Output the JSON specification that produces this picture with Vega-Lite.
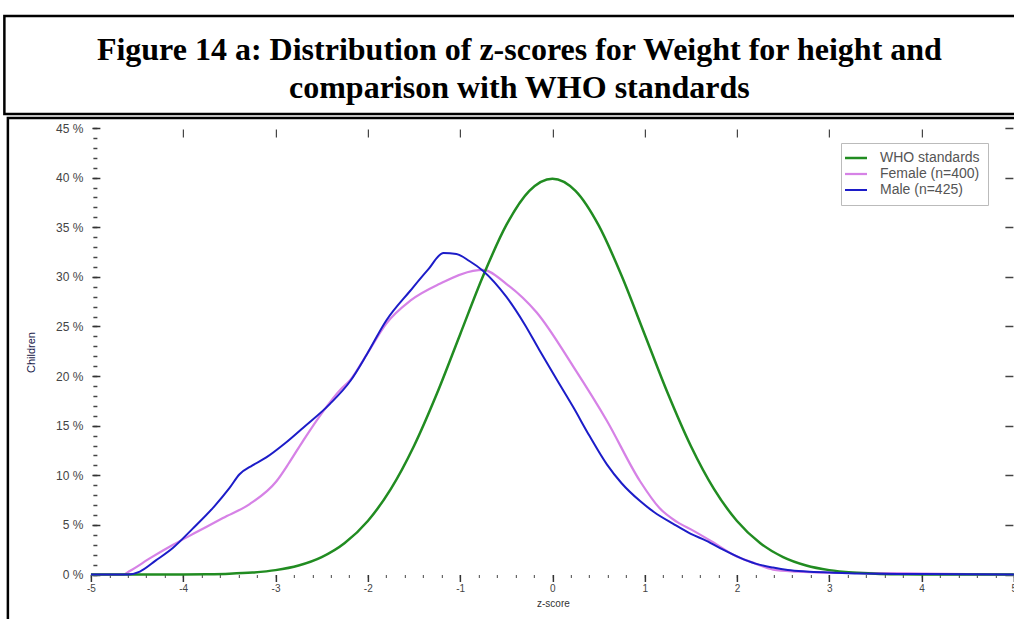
{
  "$schema": "https://vega.github.io/schema/vega-lite/v6.json",
  "padding": {"left": 3, "top": 14, "right": 0, "bottom": 0},
  "background": "white",
  "spacing": 0,
  "center": true,
  "config": {
    "view": {"stroke": "black", "strokeWidth": 2.5},
    "font": "Liberation Sans",
    "axis": {"grid": false, "domain": false, "labelFont": "Liberation Sans", "titleFont": "Liberation Sans"}
  },
  "datasets": {
    "heading": [
      {"title": "Figure 14 a: Distribution of z-scores for Weight for height and\ncomparison with WHO standards"}
    ],
    "curves": [
      {"z": -5, "pct": 0, "series": "Female (n=400)"},
      {"z": -4.65, "pct": 0, "series": "Female (n=400)"},
      {"z": -4.58, "pct": 0.35, "series": "Female (n=400)"},
      {"z": -4.35, "pct": 1.7, "series": "Female (n=400)"},
      {"z": -4.11, "pct": 3.0, "series": "Female (n=400)"},
      {"z": -3.85, "pct": 4.3, "series": "Female (n=400)"},
      {"z": -3.57, "pct": 5.7, "series": "Female (n=400)"},
      {"z": -3.28, "pct": 7.1, "series": "Female (n=400)"},
      {"z": -2.99, "pct": 9.4, "series": "Female (n=400)"},
      {"z": -2.85, "pct": 11.3, "series": "Female (n=400)"},
      {"z": -2.7, "pct": 13.5, "series": "Female (n=400)"},
      {"z": -2.48, "pct": 16.5, "series": "Female (n=400)"},
      {"z": -2.3, "pct": 18.6, "series": "Female (n=400)"},
      {"z": -2.19, "pct": 19.6, "series": "Female (n=400)"},
      {"z": -2.01, "pct": 22.2, "series": "Female (n=400)"},
      {"z": -1.8, "pct": 25.3, "series": "Female (n=400)"},
      {"z": -1.54, "pct": 27.6, "series": "Female (n=400)"},
      {"z": -1.22, "pct": 29.3, "series": "Female (n=400)"},
      {"z": -0.86, "pct": 30.6, "series": "Female (n=400)"},
      {"z": -0.75, "pct": 30.7, "series": "Female (n=400)"},
      {"z": -0.5, "pct": 29.3, "series": "Female (n=400)"},
      {"z": -0.17, "pct": 26.4, "series": "Female (n=400)"},
      {"z": 0.23, "pct": 20.9, "series": "Female (n=400)"},
      {"z": 0.59, "pct": 15.5, "series": "Female (n=400)"},
      {"z": 0.95, "pct": 9.4, "series": "Female (n=400)"},
      {"z": 1.16, "pct": 6.7, "series": "Female (n=400)"},
      {"z": 1.35, "pct": 5.3, "series": "Female (n=400)"},
      {"z": 1.53, "pct": 4.4, "series": "Female (n=400)"},
      {"z": 1.75, "pct": 3.2, "series": "Female (n=400)"},
      {"z": 1.96, "pct": 2.0, "series": "Female (n=400)"},
      {"z": 2.2, "pct": 1.1, "series": "Female (n=400)"},
      {"z": 2.39, "pct": 0.5, "series": "Female (n=400)"},
      {"z": 2.65, "pct": 0.3, "series": "Female (n=400)"},
      {"z": 2.93, "pct": 0.2, "series": "Female (n=400)"},
      {"z": 3.5, "pct": 0.15, "series": "Female (n=400)"},
      {"z": 4, "pct": 0.1, "series": "Female (n=400)"},
      {"z": 5, "pct": 0, "series": "Female (n=400)"},

      {"z": -5, "pct": 0, "series": "WHO standards"},
      {"z": -4.5, "pct": 0.002, "series": "WHO standards"},
      {"z": -4, "pct": 0.013, "series": "WHO standards"},
      {"z": -3.75, "pct": 0.035, "series": "WHO standards"},
      {"z": -3.5, "pct": 0.087, "series": "WHO standards"},
      {"z": -3.25, "pct": 0.203, "series": "WHO standards"},
      {"z": -3, "pct": 0.443, "series": "WHO standards"},
      {"z": -2.75, "pct": 0.909, "series": "WHO standards"},
      {"z": -2.5, "pct": 1.753, "series": "WHO standards"},
      {"z": -2.25, "pct": 3.174, "series": "WHO standards"},
      {"z": -2, "pct": 5.399, "series": "WHO standards"},
      {"z": -1.75, "pct": 8.628, "series": "WHO standards"},
      {"z": -1.5, "pct": 12.952, "series": "WHO standards"},
      {"z": -1.25, "pct": 18.265, "series": "WHO standards"},
      {"z": -1, "pct": 24.197, "series": "WHO standards"},
      {"z": -0.75, "pct": 30.114, "series": "WHO standards"},
      {"z": -0.5, "pct": 35.207, "series": "WHO standards"},
      {"z": -0.25, "pct": 38.667, "series": "WHO standards"},
      {"z": 0, "pct": 39.894, "series": "WHO standards"},
      {"z": 0.25, "pct": 38.667, "series": "WHO standards"},
      {"z": 0.5, "pct": 35.207, "series": "WHO standards"},
      {"z": 0.75, "pct": 30.114, "series": "WHO standards"},
      {"z": 1, "pct": 24.197, "series": "WHO standards"},
      {"z": 1.25, "pct": 18.265, "series": "WHO standards"},
      {"z": 1.5, "pct": 12.952, "series": "WHO standards"},
      {"z": 1.75, "pct": 8.628, "series": "WHO standards"},
      {"z": 2, "pct": 5.399, "series": "WHO standards"},
      {"z": 2.25, "pct": 3.174, "series": "WHO standards"},
      {"z": 2.5, "pct": 1.753, "series": "WHO standards"},
      {"z": 2.75, "pct": 0.909, "series": "WHO standards"},
      {"z": 3, "pct": 0.443, "series": "WHO standards"},
      {"z": 3.25, "pct": 0.203, "series": "WHO standards"},
      {"z": 3.5, "pct": 0.087, "series": "WHO standards"},
      {"z": 3.75, "pct": 0.035, "series": "WHO standards"},
      {"z": 4, "pct": 0.013, "series": "WHO standards"},
      {"z": 4.5, "pct": 0.002, "series": "WHO standards"},
      {"z": 5, "pct": 0, "series": "WHO standards"},

      {"z": -5, "pct": 0, "series": "Male (n=425)"},
      {"z": -4.6, "pct": 0, "series": "Male (n=425)"},
      {"z": -4.47, "pct": 0.3, "series": "Male (n=425)"},
      {"z": -4.3, "pct": 1.4, "series": "Male (n=425)"},
      {"z": -4.11, "pct": 2.7, "series": "Male (n=425)"},
      {"z": -3.9, "pct": 4.6, "series": "Male (n=425)"},
      {"z": -3.67, "pct": 6.8, "series": "Male (n=425)"},
      {"z": -3.5, "pct": 8.7, "series": "Male (n=425)"},
      {"z": -3.39, "pct": 10.1, "series": "Male (n=425)"},
      {"z": -3.25, "pct": 11.0, "series": "Male (n=425)"},
      {"z": -3.1, "pct": 11.8, "series": "Male (n=425)"},
      {"z": -2.9, "pct": 13.2, "series": "Male (n=425)"},
      {"z": -2.7, "pct": 14.8, "series": "Male (n=425)"},
      {"z": -2.41, "pct": 17.2, "series": "Male (n=425)"},
      {"z": -2.19, "pct": 19.5, "series": "Male (n=425)"},
      {"z": -2.01, "pct": 22.2, "series": "Male (n=425)"},
      {"z": -1.8, "pct": 25.6, "series": "Male (n=425)"},
      {"z": -1.54, "pct": 28.6, "series": "Male (n=425)"},
      {"z": -1.35, "pct": 30.7, "series": "Male (n=425)"},
      {"z": -1.18, "pct": 32.4, "series": "Male (n=425)"},
      {"z": -1.04, "pct": 32.3, "series": "Male (n=425)"},
      {"z": -0.9, "pct": 31.6, "series": "Male (n=425)"},
      {"z": -0.75, "pct": 30.6, "series": "Male (n=425)"},
      {"z": -0.5, "pct": 28.0, "series": "Male (n=425)"},
      {"z": -0.3, "pct": 25.2, "series": "Male (n=425)"},
      {"z": -0.14, "pct": 22.6, "series": "Male (n=425)"},
      {"z": 0.05, "pct": 19.6, "series": "Male (n=425)"},
      {"z": 0.23, "pct": 16.8, "series": "Male (n=425)"},
      {"z": 0.4, "pct": 14.0, "series": "Male (n=425)"},
      {"z": 0.59, "pct": 11.1, "series": "Male (n=425)"},
      {"z": 0.75, "pct": 9.2, "series": "Male (n=425)"},
      {"z": 0.95, "pct": 7.4, "series": "Male (n=425)"},
      {"z": 1.1, "pct": 6.3, "series": "Male (n=425)"},
      {"z": 1.31, "pct": 5.1, "series": "Male (n=425)"},
      {"z": 1.5, "pct": 4.1, "series": "Male (n=425)"},
      {"z": 1.67, "pct": 3.4, "series": "Male (n=425)"},
      {"z": 1.85, "pct": 2.5, "series": "Male (n=425)"},
      {"z": 2.03, "pct": 1.7, "series": "Male (n=425)"},
      {"z": 2.2, "pct": 1.1, "series": "Male (n=425)"},
      {"z": 2.39, "pct": 0.7, "series": "Male (n=425)"},
      {"z": 2.55, "pct": 0.45, "series": "Male (n=425)"},
      {"z": 2.75, "pct": 0.3, "series": "Male (n=425)"},
      {"z": 3.0, "pct": 0.2, "series": "Male (n=425)"},
      {"z": 3.33, "pct": 0.1, "series": "Male (n=425)"},
      {"z": 4, "pct": 0.05, "series": "Male (n=425)"},
      {"z": 5, "pct": 0, "series": "Male (n=425)"}
    ]
  },
  "vconcat": [
    {
      "width": 1018,
      "height": 98,
      "data": {"name": "heading"},
      "mark": {"type": "text", "font": "Liberation Serif", "fontWeight": "bold", "fontSize": 32, "lineBreak": "\n", "lineHeight": 38, "baseline": "middle", "align": "center", "dy": -15, "dx": 6, "color": "black"},
      "encoding": {
        "text": {"field": "title"},
        "x": {"datum": 0, "type": "quantitative", "scale": {"domain": [-1, 1]}, "axis": null},
        "y": {"datum": 0, "type": "quantitative", "scale": {"domain": [-1, 1]}, "axis": null}
      }
    },
    {
      "width": 1008,
      "height": 510,
      "data": {"name": "curves"},
      "resolve": {"axis": {"x": "independent", "y": "independent"}},
      "layer": [
        {
          "mark": {"type": "line", "opacity": 0},
          "encoding": {
            "x": {"field": "z", "type": "quantitative", "scale": {"domain": [-5.9, 5.022], "nice": false, "zero": false},
              "axis": {"orient": "bottom", "offset": -53.5, "values": [-5,-4.8,-4.6,-4.4,-4.2,-4,-3.8,-3.6,-3.4,-3.2,-3,-2.8,-2.6,-2.4,-2.2,-2,-1.8,-1.6,-1.4,-1.2,-1,-0.8,-0.6,-0.4,-0.2,0,0.2,0.4,0.6,0.8,1,1.2,1.4,1.6,1.8,2,2.2,2.4,2.6,2.8,3,3.2,3.4,3.6,3.8,4,4.2,4.4,4.6,4.8,5], "labels": false, "title": null, "tickSize": 3, "tickColor": "#666", "tickWidth": 1.2}},
            "y": {"field": "pct", "type": "quantitative", "scale": {"domain": [-5.39, 46.01], "nice": false, "zero": false},
              "axis": {"orient": "left", "offset": -89, "values": [0,1,2,3,4,5,6,7,8,9,10,11,12,13,14,15,16,17,18,19,20,21,22,23,24,25,26,27,28,29,30,31,32,33,34,35,36,37,38,39,40,41,42,43,44,45], "labels": false, "title": null, "tickSize": 4, "tickColor": "#444", "tickWidth": 1.5}},
            "detail": {"field": "series"}
          }
        },
        {
          "mark": {"type": "line", "opacity": 0},
          "encoding": {
            "x": {"field": "z", "type": "quantitative", "scale": {"domain": [-5.9, 5.022], "nice": false, "zero": false},
              "axis": {"orient": "top", "offset": -19, "values": [-4,-3,-2,-1,0,1,2,3,4], "labels": false, "title": null, "tickSize": 8, "tickColor": "#444", "tickWidth": 1.2}},
            "y": {"field": "pct", "type": "quantitative", "scale": {"domain": [-5.39, 46.01], "nice": false, "zero": false},
              "axis": {"orient": "right", "offset": -11, "values": [0,5,10,15,20,25,30,35,40,45], "labels": false, "title": null, "tickSize": 8, "tickColor": "#444", "tickWidth": 1.5}},
            "detail": {"field": "series"}
          }
        },
        {
          "mark": {"type": "line", "interpolate": "monotone"},
          "encoding": {
            "x": {"field": "z", "type": "quantitative", "scale": {"domain": [-5.9, 5.022], "nice": false, "zero": false},
              "axis": {"orient": "bottom", "offset": -53.5, "values": [-5,-4,-3,-2,-1,0,1,2,3,4,5], "labelExpr": "'' + datum.value", "tickSize": 7, "tickColor": "#333", "tickWidth": 1.5, "labelPadding": 2, "labelFontSize": 10, "labelColor": "#444", "title": "z-score", "titleFontSize": 10, "titleFontWeight": "normal", "titleColor": "#333", "titleX": 545, "titleY": 29, "titleBaseline": "middle"}},
            "y": {"field": "pct", "type": "quantitative", "scale": {"domain": [-5.39, 46.01], "nice": false, "zero": false},
              "axis": {"orient": "left", "offset": -92, "values": [0,5,10,15,20,25,30,35,40,45], "labelExpr": "datum.value + ' %'", "tickSize": 8, "tickColor": "#333", "tickWidth": 1.5, "labelPadding": 9, "labelFontSize": 12, "labelColor": "#444", "title": "Children", "titleFontSize": 11, "titleFontWeight": "normal", "titleColor": "#1a1a4a", "titleX": -68, "titleY": 234, "titleBaseline": "middle", "titleAngle": -90}},
            "color": {"field": "series", "type": "nominal",
              "scale": {"domain": ["WHO standards", "Female (n=400)", "Male (n=425)"], "range": ["#218c21", "#d682e6", "#1c1cc8"]},
              "legend": {"title": null, "orient": "none", "legendX": 837, "legendY": 127, "symbolType": "M-2,0H2", "symbolSize": 121, "symbolStrokeWidth": 2, "labelOffset": 17, "labelFontSize": 14, "labelExpr": "datum.label + '   '", "labelColor": "#555", "rowPadding": 2, "padding": 8, "strokeColor": "#bbb", "fillColor": "white"}},
            "strokeWidth": {"field": "series", "type": "nominal", "scale": {"domain": ["WHO standards", "Female (n=400)", "Male (n=425)"], "range": [2.5, 2, 3]}, "legend": null}
          }
        }
      ]
    }
  ]
}
